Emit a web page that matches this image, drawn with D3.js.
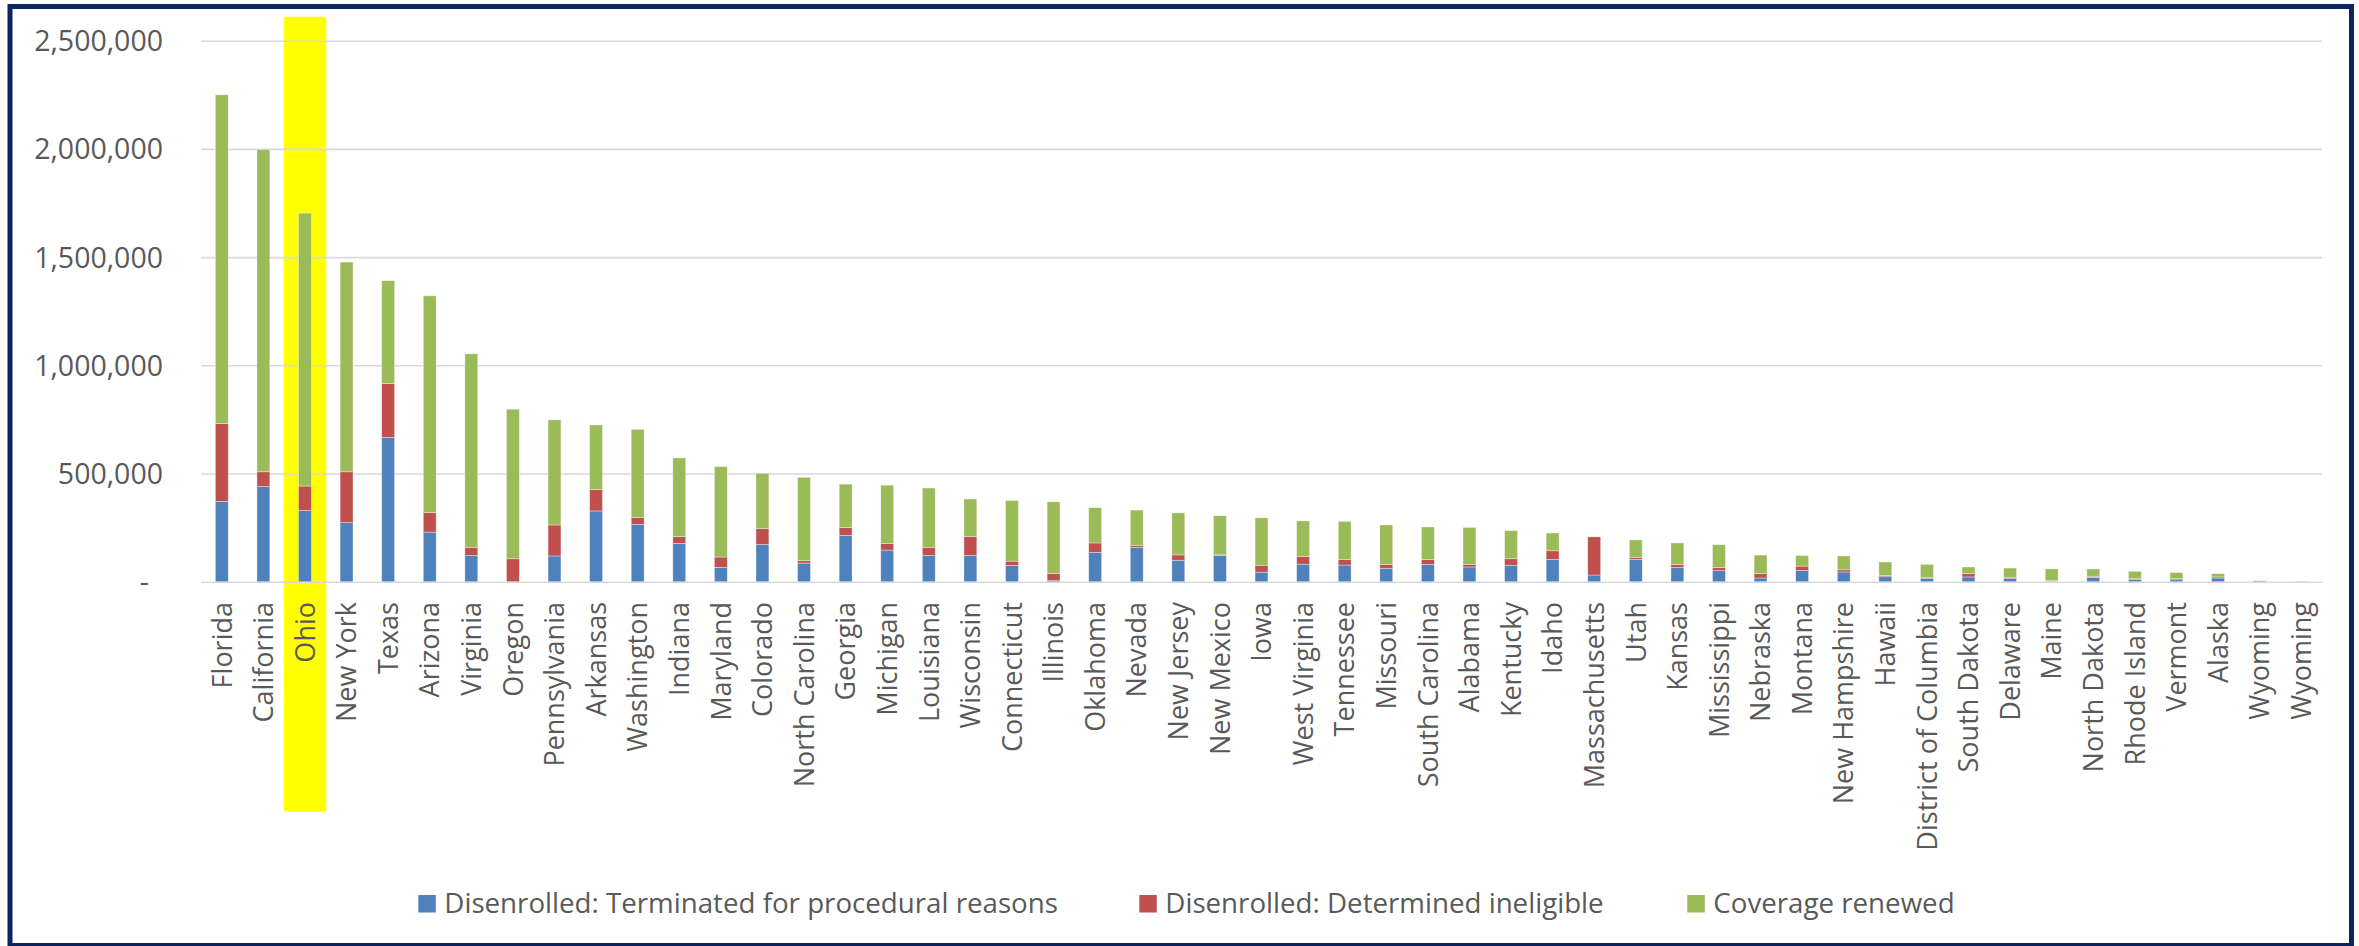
<!DOCTYPE html>
<html>
<head>
<meta charset="utf-8">
<script src="https://cdn.jsdelivr.net/npm/d3@7"></script>
<style>
  body { margin: 0; background: #fff; }
  svg { display: block; font-family: "Open Sans", "Segoe UI", sans-serif; }
</style>
</head>
<body>
<div id="chart"></div>
<script>
// Données
const states = ['Florida', 'California', 'Ohio', 'New York', 'Texas', 'Arizona', 'Virginia', 'Oregon',
  'Pennsylvania', 'Arkansas', 'Washington', 'Indiana', 'Maryland', 'Colorado', 'North Carolina', 'Georgia',
  'Michigan', 'Louisiana', 'Wisconsin', 'Connecticut', 'Illinois', 'Oklahoma', 'Nevada', 'New Jersey',
  'New Mexico', 'Iowa', 'West Virginia', 'Tennessee', 'Missouri', 'South Carolina', 'Alabama', 'Kentucky',
  'Idaho', 'Massachusetts', 'Utah', 'Kansas', 'Mississippi', 'Nebraska', 'Montana', 'New Hampshire',
  'Hawaii', 'District of Columbia', 'South Dakota', 'Delaware', 'Maine', 'North Dakota', 'Rhode Island',
  'Vermont', 'Alaska', 'Wyoming', 'Wyoming '];

const procedural = [371000, 440000, 329000, 273000, 667000, 229000, 121000, 0, 119000, 327000, 265000,
  177000, 66000, 172000, 86000, 214000, 146000, 121000, 121000, 75000, 5000, 135000, 159000, 99000, 122000,
  44000, 81000, 77000, 62000, 80000, 68000, 76000, 103000, 31000, 103000, 66000, 51000, 17000, 52000,
  45000, 23000, 16000, 22000, 14000, 2000, 20000, 11000, 9000, 17000, 0, 0];

const ineligible = [360000, 68000, 113000, 235000, 249000, 91000, 38000, 106000, 143000, 99000, 31000,
  31000, 48000, 73000, 11000, 36000, 30000, 38000, 87000, 20000, 33000, 44000, 9000, 25000, 2000, 32000,
  35000, 25000, 17000, 22000, 11000, 30000, 40000, 176000, 8000, 13000, 14000, 20000, 20000, 10000, 5000,
  4000, 15000, 6000, 4000, 5000, 3000, 5000, 5000, 4000, 0];

const renewed = [1519000, 1489000, 1261000, 969000, 475000, 1001000, 894000, 691000, 486000, 298000,
  408000, 364000, 418000, 256000, 385000, 201000, 270000, 274000, 174000, 280000, 331000, 163000, 163000,
  194000, 181000, 219000, 165000, 177000, 183000, 151000, 172000, 130000, 82000, 0, 82000, 100000, 106000,
  86000, 49000, 64000, 63000, 60000, 31000, 43000, 53000, 34000, 34000, 28000, 15000, 0, 3000];

const seriesNames = ['Disenrolled: Terminated for procedural reasons', 'Disenrolled: Determined ineligible', 'Coverage renewed'];
const seriesColors = ['#4F81BD', '#C0504D', '#9BBB59'];
const yTicks = [0, 500000, 1000000, 1500000, 2000000, 2500000];
const highlighted = 'Ohio';

// Dimensions
const width = 2359;
const height = 946;
const plot = { left: 201, right: 2322, top: 40.7, bottom: 581.7 };
const fontFamily = '"Open Sans", "Segoe UI", sans-serif';

const svg = d3.select('#chart').append('svg')
  .attr('width', width)
  .attr('height', height);

svg.append('rect')
  .attr('width', width).attr('height', height)
  .attr('fill', '#fff');

// Échelles
const x = d3.scaleBand()
  .domain(states)
  .range([plot.left, plot.right])
  .paddingInner(0.69)
  .paddingOuter(0.345);

const y = d3.scaleLinear()
  .domain([0, 2500000])
  .range([plot.bottom, plot.top]);

// Surlignage jaune (Ohio)
const step = x.step();
const cx = x(highlighted) + x.bandwidth() / 2;
svg.append('rect')
  .attr('x', cx - step / 2 - 0.5)
  .attr('y', 16.7)
  .attr('width', step + 1)
  .attr('height', 811.7 - 16.7)
  .attr('rx', 3)
  .attr('fill', '#FFFF00');

// Grille + axe Y
const yAxis = d3.axisLeft(y)
  .tickValues(yTicks)
  .tickSize(-(plot.right - plot.left))
  .tickPadding(0)
  .tickFormat(d => d === 0 ? '-' : d3.format(',')(d));

const gy = svg.append('g')
  .attr('transform', `translate(${plot.left},0)`)
  .call(yAxis)
  .attr('font-family', fontFamily);
gy.select('.domain').remove();
gy.selectAll('.tick line')
  .attr('stroke', '#D9D9D9')
  .attr('stroke-width', 1.6);
gy.selectAll('.tick text')
  .attr('x', d => d === 0 ? -52 : -38)
  .attr('dy', '0.35em')
  .attr('fill', '#595959')
  .style('font-size', '28.5px');

// Barres empilées
const table = states.map((s, i) => ({ state: s, procedural: procedural[i], ineligible: ineligible[i], renewed: renewed[i] }));
const stack = d3.stack().keys(['procedural', 'ineligible', 'renewed']);
const layers = stack(table);

svg.append('g')
  .selectAll('g')
  .data(layers)
  .join('g')
  .attr('fill', (d, i) => seriesColors[i])
  .selectAll('rect')
  .data(d => d)
  .join('rect')
  .attr('x', d => x(d.data.state))
  .attr('width', x.bandwidth())
  .attr('y', d => y(d[1]))
  .attr('height', d => Math.max(0, y(d[0]) - y(d[1])))
  .attr('stroke', '#fff')
  .attr('stroke-width', 0.7)
  .attr('stroke-opacity', 0.5);

// Étiquettes X
const gx = svg.append('g');
gx.selectAll('text')
  .data(states)
  .join('text')
  .attr('transform', d => `translate(${x(d) + x.bandwidth() / 2},602) rotate(-90)`)
  .attr('text-anchor', 'end')
  .attr('dy', '0.36em')
  .attr('fill', '#595959')
  .style('font-size', '27px')
  .text(d => d.trim());

// Légende
const legendX = [418.3, 1139.3, 1687.3];
const legend = svg.append('g')
  .selectAll('g')
  .data(seriesNames)
  .join('g')
  .attr('transform', (d, i) => `translate(${legendX[i]},895)`);
legend.append('rect')
  .attr('width', 17.5)
  .attr('height', 17.5)
  .attr('fill', (d, i) => seriesColors[i]);
legend.append('text')
  .attr('x', 26)
  .attr('y', 17.5)
  .attr('fill', '#595959')
  .style('font-size', '27.7px')
  .text(d => d);

// Cadre
svg.append('rect')
  .attr('x', 10)
  .attr('y', 6.5)
  .attr('width', 2341.5)
  .attr('height', 939)
  .attr('fill', 'none')
  .attr('stroke', '#0C2461')
  .attr('stroke-width', 5);
</script>
</body>
</html>
